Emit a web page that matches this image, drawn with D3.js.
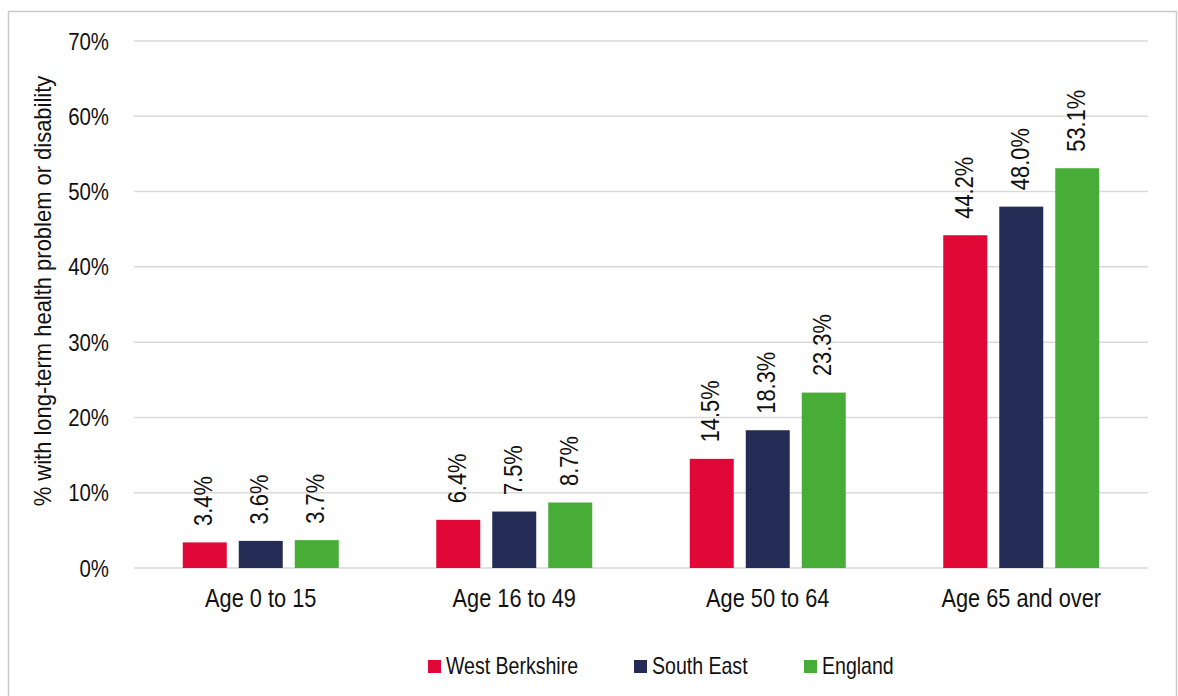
<!DOCTYPE html>
<html>
<head>
<meta charset="utf-8">
<script src="https://cdn.jsdelivr.net/npm/d3@7"></script>
<style>
  body { margin: 0; background: #fff; }
  text { font-family: "Liberation Sans", Arial, sans-serif; fill: #111; }
</style>
</head>
<body>
<svg width="1178" height="696"></svg>
<script>
// categories and series
var categories = ["Age 0 to 15", "Age 16 to 49", "Age 50 to 64", "Age 65 and over"];
var seriesNames = ["West Berkshire", "South East", "England"];
var westBerkshire = [3.4, 6.4, 14.5, 44.2];
var southEast = [3.6, 7.5, 18.3, 48.0];
var england = [3.7, 8.7, 23.3, 53.1];
var yTicks = [0, 10, 20, 30, 40, 50, 60, 70];

var seriesValues = [westBerkshire, southEast, england];
var colors = ["#e10838", "#242c56", "#47ad36"];
var sx = 0.85; // narrow font look

var svg = d3.select("svg"),
  width = +svg.attr("width"),
  height = +svg.attr("height");

// outer frame
svg.append("rect")
  .attr("x", 8.5).attr("y", 11.5)
  .attr("width", 1168).attr("height", 700)
  .attr("fill", "none").attr("stroke", "#c9c9c9").attr("stroke-width", 1.5);

var plot = {left: 134, right: 1148, top: 41, bottom: 568};

var x0 = d3.scaleBand()
  .domain(categories)
  .range([plot.left, plot.right]);

var groupW = 156;
var x1 = d3.scaleBand()
  .domain(seriesNames)
  .range([(x0.bandwidth() - groupW) / 2, (x0.bandwidth() + groupW) / 2])
  .paddingInner(12 / 56);

var y = d3.scaleLinear()
  .domain([0, 70])
  .range([plot.bottom, plot.top]);

// gridlines
svg.append("g")
  .selectAll("line")
  .data(yTicks)
  .enter().append("line")
  .attr("x1", plot.left).attr("x2", plot.right)
  .attr("y1", function (d) { return y(d); })
  .attr("y2", function (d) { return y(d); })
  .attr("stroke", "#d9d9d9")
  .attr("stroke-width", 1.5);

// y tick labels
svg.append("g")
  .selectAll("text")
  .data(yTicks)
  .enter().append("text")
  .attr("transform", function (d) {
    return "translate(109," + (y(d) + 8.5) + ") scale(" + sx + ",1)";
  })
  .attr("text-anchor", "end")
  .style("font-size", "24px")
  .text(function (d) { return d + "%"; });

// y axis title
svg.append("text")
  .attr("transform", "translate(51,291) rotate(-90) scale(0.955,1)")
  .attr("text-anchor", "middle")
  .style("font-size", "23px")
  .text("% with long-term health problem or disability");

// bars
var rows = [];
categories.forEach(function (c, i) {
  seriesNames.forEach(function (s, j) {
    rows.push({cat: c, series: s, value: seriesValues[j][i], color: colors[j]});
  });
});

var groups = svg.append("g").attr("class", "bars");

groups.selectAll("rect")
  .data(rows)
  .enter().append("rect")
  .attr("x", function (d) { return x0(d.cat) + x1(d.series); })
  .attr("y", function (d) { return y(d.value); })
  .attr("width", x1.bandwidth())
  .attr("height", function (d) { return y(0) - y(d.value); })
  .attr("fill", function (d) { return d.color; });

// value labels
groups.selectAll("text")
  .data(rows)
  .enter().append("text")
  .attr("transform", function (d) {
    var cx = x0(d.cat) + x1(d.series) + x1.bandwidth() / 2 + 7.5;
    return "translate(" + cx + "," + (y(d.value) - 16.5) + ") rotate(-90) scale(0.875,1)";
  })
  .attr("text-anchor", "start")
  .style("font-size", "25px")
  .text(function (d) { return d.value.toFixed(1) + "%"; });

// category labels
svg.append("g")
  .selectAll("text")
  .data(categories)
  .enter().append("text")
  .attr("transform", function (d) {
    return "translate(" + (x0(d) + x0.bandwidth() / 2) + ",607) scale(" + sx + ",1)";
  })
  .attr("text-anchor", "middle")
  .style("font-size", "25.6px")
  .text(function (d) { return d; });

// legend
var legendX = [428, 634, 804];
var legend = svg.append("g")
  .selectAll("g")
  .data(seriesNames)
  .enter().append("g")
  .attr("transform", function (d, i) { return "translate(" + legendX[i] + ",660)"; });

legend.append("rect")
  .attr("width", 13).attr("height", 13)
  .attr("fill", function (d, i) { return colors[i]; });

legend.append("text")
  .attr("transform", "translate(18,14) scale(" + sx + ",1)")
  .style("font-size", "23px")
  .text(function (d) { return d; });
</script>
</body>
</html>
